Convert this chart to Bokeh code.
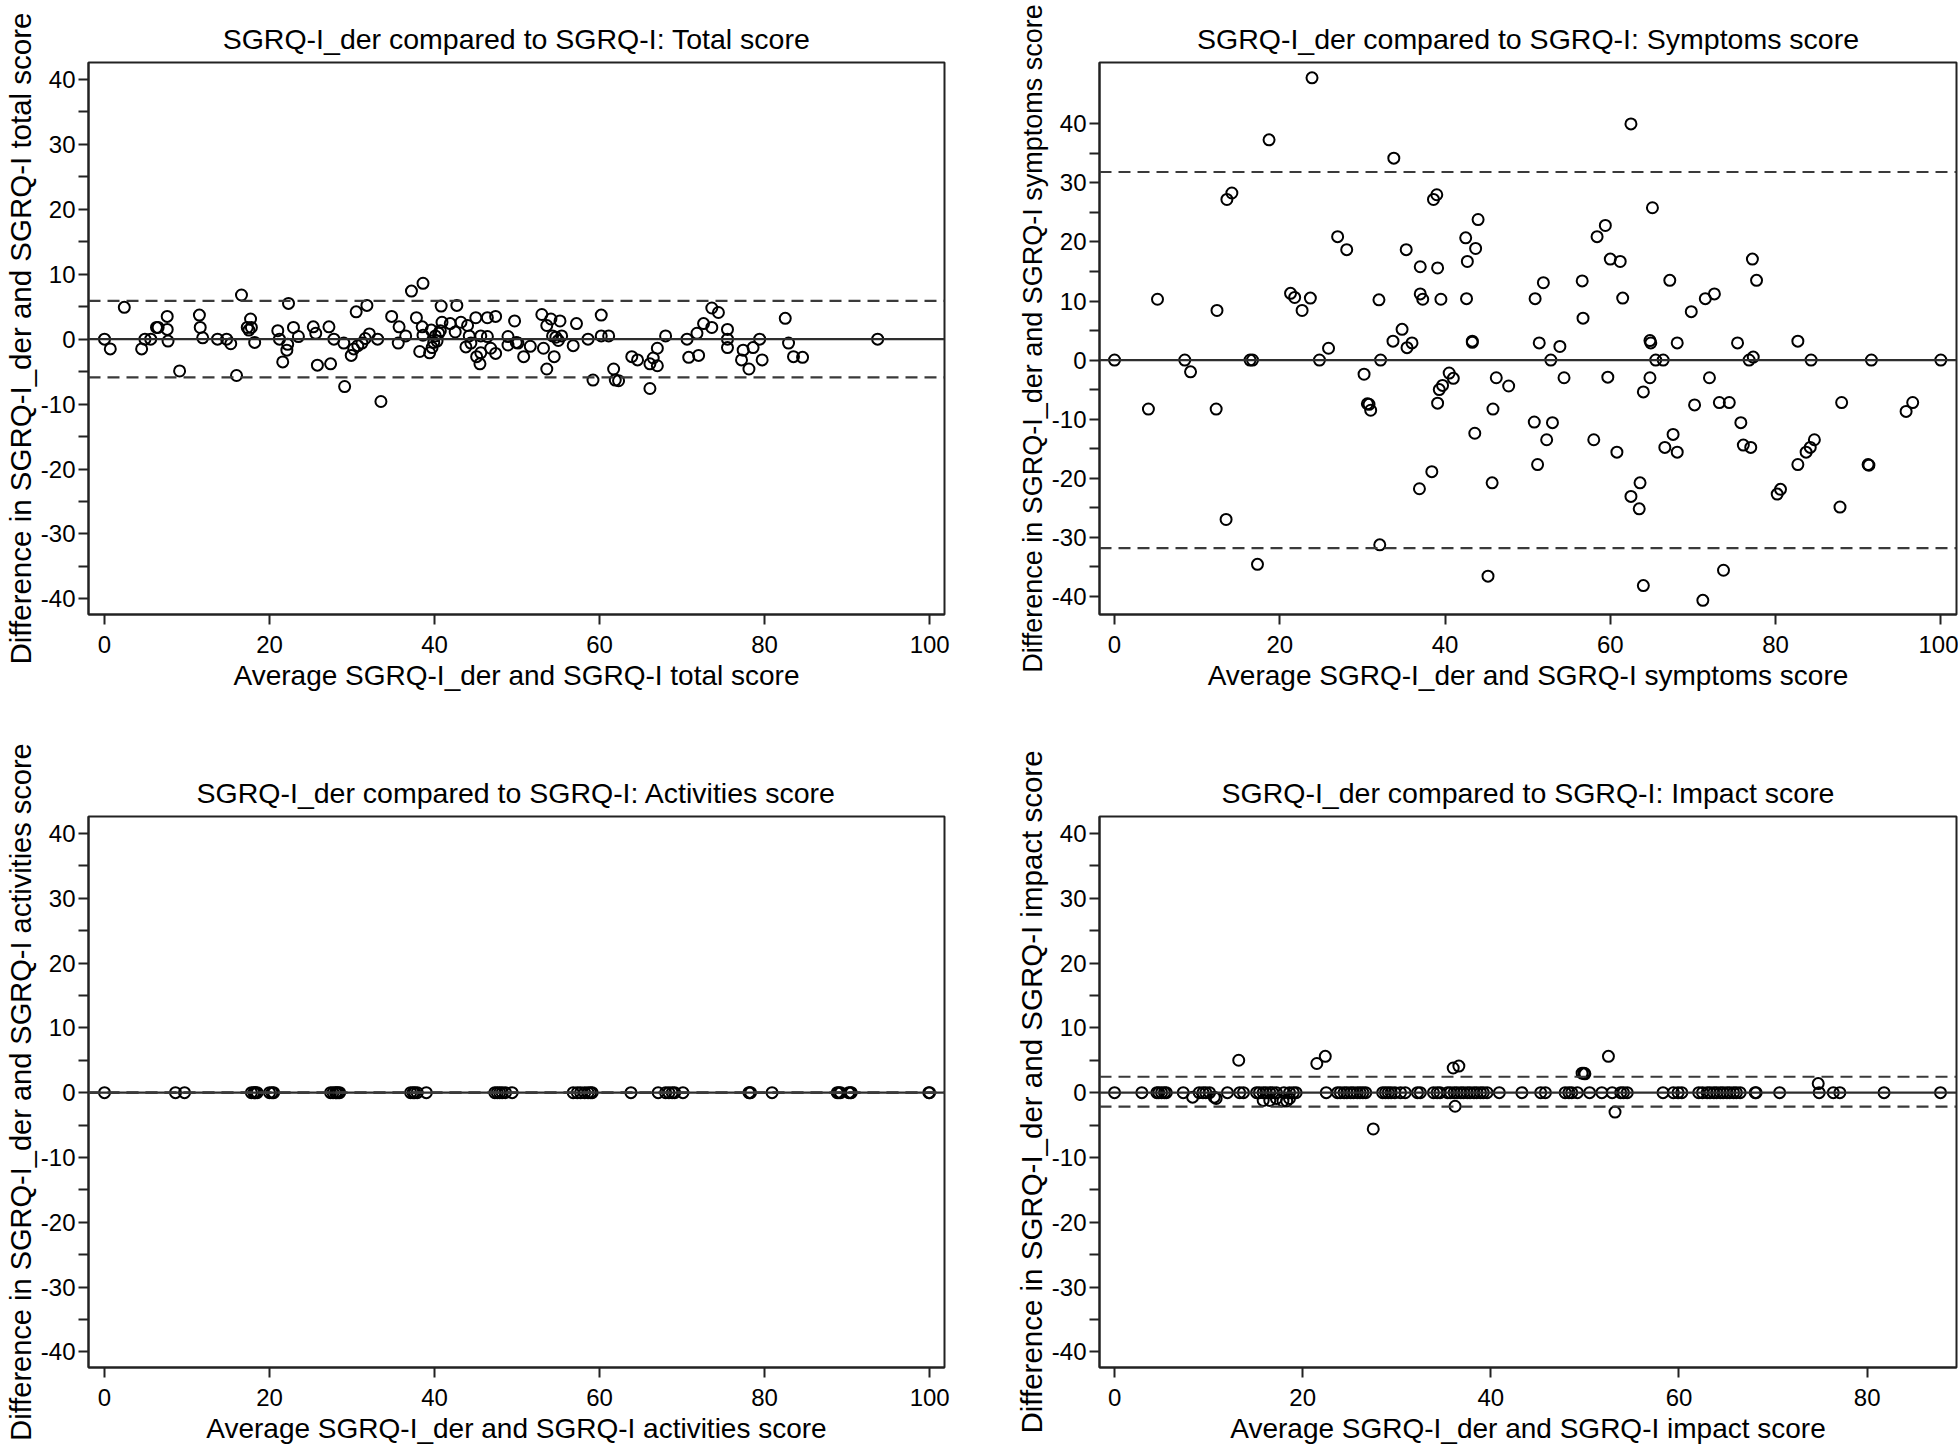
from bokeh.plotting import figure
from bokeh.models import Range1d, FixedTicker, Span
from bokeh.layouts import column, row
from bokeh.embed import file_html
from bokeh.resources import INLINE

# ---------------- data ----------------
y_major = [-40, -30, -20, -10, 0, 10, 20, 30, 40]
y_minor = [-35, -25, -15, -5, 5, 15, 25, 35]
x_ticks_100 = [0, 20, 40, 60, 80, 100]
x_ticks_80 = [0, 20, 40, 60, 80]

# Total score
total_x = [0.0, 0.7, 2.4, 4.5, 4.9, 5.6, 6.3, 6.5, 7.6, 7.6,
           7.7, 9.1, 11.5, 11.6, 11.9, 13.7, 14.8, 15.3, 16.0, 16.6,
           17.3, 17.7, 17.8, 17.5, 18.2, 21.0, 21.2, 21.6, 22.1, 22.2,
           22.3, 22.9, 23.5, 25.3, 25.6, 25.8, 27.2, 27.4, 27.8, 29.0,
           29.1, 29.9, 30.2, 30.5, 30.7, 31.2, 31.6, 31.8, 32.1, 33.1,
           33.5, 34.8, 35.6, 35.7, 36.5, 37.2, 37.8, 38.2, 38.5, 38.6,
           38.6, 39.4, 39.6, 39.7, 39.9, 40.1, 40.3, 40.5, 40.7, 40.8,
           40.9, 41.9, 42.5, 42.7, 43.2, 43.8, 44.0, 44.2, 44.4, 45.0,
           45.1, 45.5, 45.6, 45.6, 46.4, 46.4, 46.8, 47.4, 47.4, 48.9,
           48.9, 49.7, 49.9, 50.1, 50.8, 51.6, 53.0, 53.2, 53.6, 53.6,
           54.1, 54.3, 54.5, 54.7, 55.0, 55.2, 55.4, 56.8, 57.2, 58.6,
           59.2, 60.2, 60.2, 61.1, 61.7, 61.9, 62.3, 63.9, 64.6, 66.1,
           66.1, 66.5, 67.0, 67.0, 68.0, 70.6, 70.8, 71.8, 72.0, 72.6,
           73.6, 73.6, 74.4, 75.5, 75.5, 75.5, 77.2, 77.4, 78.1, 78.6,
           79.4, 79.7, 82.5, 82.9, 83.5, 84.6, 93.7]
total_diff = [0.0, -1.5, 4.9, -1.5, 0.0, 0.0, 1.8, 1.8, 3.5, 1.5,
              -0.3, -4.9, 3.7, 1.8, 0.2, 0.0, 0.0, -0.7, -5.6, 6.8,
              1.8, 3.1, 1.8, 1.4, -0.5, 1.3, 0.0, -3.5, -1.7, -0.8,
              5.5, 1.8, 0.4, 1.9, 0.9, -4.0, 1.9, -3.8, 0.0, -0.6,
              -7.3, -2.5, -1.5, 4.2, -1.0, -0.6, 0.1, 5.2, 0.8, 0.0,
              -9.6, 3.5, -0.6, 1.9, 0.5, 7.4, 3.3, -1.9, 1.9, 8.6,
              0.6, -2.1, 1.4, -1.3, -0.5, 0.5, -0.3, 0.9, 1.3, 5.1,
              2.6, 2.4, 1.1, 5.2, 2.6, -1.2, 2.1, 0.5, -0.6, 3.3,
              -2.7, -3.8, 0.5, -2.1, 3.3, 0.4, -1.4, 3.5, -2.2, 0.4,
              -0.9, 2.8, -0.5, -0.6, -2.7, -1.1, 3.8, -1.4, 2.1, -4.6,
              3.1, 0.5, -2.7, 0.3, -0.2, 2.8, 0.5, -1.0, 2.4, 0.0,
              -6.3, 3.7, 0.5, 0.5, -4.6, -6.3, -6.4, -2.7, -3.2, -3.8,
              -7.6, -2.9, -1.4, -4.1, 0.5, 0.0, -2.8, 0.9, -2.5, 2.4,
              4.8, 1.8, 4.1, 1.5, 0.0, -1.3, -3.2, -1.7, -4.6, -1.3,
              0.0, -3.2, 3.2, -0.6, -2.7, -2.8, 0.0]
total_lines = [-5.9, 5.9]

# Symptoms score
symp_x = [0.0, 4.1, 5.2, 8.5, 9.2, 12.3, 12.4, 13.5, 13.6, 14.2,
          16.4, 16.7, 17.3, 18.7, 21.3, 21.8, 22.7, 23.7, 23.9, 24.8,
          25.9, 27.0, 28.1, 30.2, 30.6, 30.8, 31.0, 32.0, 32.1, 32.2,
          33.7, 33.8, 34.8, 35.3, 35.4, 36.0, 36.9, 37.0, 37.0, 37.3,
          38.4, 38.6, 39.0, 39.1, 39.1, 39.3, 39.5, 39.7, 40.5, 41.0,
          42.5, 42.6, 42.7, 43.3, 43.3, 43.6, 43.7, 44.0, 45.2, 45.7,
          45.8, 46.2, 47.7, 50.8, 50.9, 51.2, 51.4, 51.9, 52.3, 52.8,
          53.0, 53.9, 54.4, 56.6, 56.7, 58.0, 58.4, 59.4, 59.7, 60.0,
          60.8, 61.2, 61.5, 62.5, 62.5, 63.5, 63.6, 64.0, 64.0, 64.8,
          64.9, 64.8, 65.1, 65.5, 66.4, 66.6, 67.2, 67.6, 68.1, 68.1,
          69.8, 70.2, 71.2, 71.5, 72.0, 72.6, 73.2, 73.7, 74.4, 75.4,
          75.8, 76.1, 76.8, 77.0, 77.2, 77.3, 77.7, 80.2, 80.6, 82.7,
          82.7, 83.7, 84.2, 84.3, 84.7, 87.8, 88.0, 91.2, 91.3, 91.6,
          95.8, 96.6, 100.0]
symp_diff = [0.0, -8.3, 10.3, 0.0, -2.0, -8.3, 8.4, -27.0, 27.2, 28.3,
             0.0, 0.0, -34.6, 37.3, 11.3, 10.6, 8.4, 10.5, 47.8, 0.0,
             2.0, 20.9, 18.7, -2.4, -7.4, -7.5, -8.5, 10.2, -31.3, 0.0,
             3.2, 34.2, 5.2, 18.7, 2.1, 2.9, -21.8, 11.2, 15.8, 10.3,
             -18.9, 27.2, 28.0, -7.3, 15.6, -5.0, 10.3, -4.3, -2.2, -3.1,
             20.7, 10.4, 16.7, 3.0, 3.2, -12.4, 18.9, 23.8, -36.6, -20.8,
             -8.3, -3.0, -4.4, -10.5, 10.4, -17.7, 2.9, 13.1, -13.5, 0.0,
             -10.6, 2.3, -3.0, 13.4, 7.1, -13.5, 20.9, 22.8, -2.9, 17.1,
             -15.6, 16.7, 10.5, 40.0, -23.1, -25.2, -20.8, -5.4, -38.2, 3.3,
             2.9, -3.0, 25.8, 0.0, 0.0, -14.8, 13.5, -12.6, -15.6, 2.9,
             8.2, -7.6, -40.7, 10.4, -3.0, 11.2, -7.2, -35.6, -7.2, 2.9,
             -10.6, -14.4, 0.0, -14.8, 17.1, 0.5, 13.5, -22.7, -21.9, 3.2,
             -17.7, -15.6, -14.8, 0.0, -13.5, -24.9, -7.2, -17.7, -17.8, 0.0,
             -8.7, -7.2, 0.0]
symp_lines = [-31.85, 31.85]

# Activities score
act_x = [0.0, 8.6, 9.7, 17.8, 18.1, 18.2, 18.3, 18.5, 20.0, 20.3,
         20.5, 27.4, 27.7, 28.0, 28.1, 28.3, 28.5, 37.1, 37.4, 37.6,
         37.9, 39.0, 47.3, 47.6, 47.9, 48.2, 48.6, 49.4, 56.8, 57.3,
         57.7, 58.2, 58.6, 58.9, 59.1, 63.8, 67.1, 68.0, 68.4, 68.8,
         69.1, 70.1, 78.1, 78.2, 78.3, 80.9, 88.8, 89.0, 89.2, 90.2,
         90.4, 90.5, 99.9, 100.0]
act_diff = [0.0, 0.0, 0.0, 0.0, 0.0, 0.0, 0.0, 0.0, 0.0, 0.0,
            0.0, 0.0, 0.0, 0.0, 0.0, 0.0, 0.0, 0.0, 0.0, 0.0,
            0.0, 0.0, 0.0, 0.0, 0.0, 0.0, 0.0, 0.0, 0.0, 0.0,
            0.0, 0.0, 0.0, 0.0, 0.0, 0.0, 0.0, 0.0, 0.0, 0.0,
            0.0, 0.0, 0.0, 0.0, 0.0, 0.0, 0.0, 0.0, 0.0, 0.0,
            0.0, 0.0, 0.0, 0.0]
act_lines = [-0.05, 0.05]

# Impact score
imp_x = [0.0, 2.9, 4.5, 4.7, 5.0, 5.3, 5.5, 7.3, 8.3, 9.0,
         9.4, 9.7, 10.1, 10.6, 10.8, 12.0, 13.2, 13.3, 13.7, 15.1,
         15.4, 15.8, 15.8, 16.1, 16.5, 16.5, 16.8, 17.2, 17.2, 17.9,
         18.0, 18.3, 18.6, 18.6, 19.0, 19.3, 21.5, 22.4, 22.5, 23.7,
         24.0, 24.4, 24.7, 25.1, 25.4, 25.8, 26.1, 26.4, 26.7, 27.5,
         28.5, 28.8, 29.1, 29.4, 29.8, 30.4, 30.9, 32.2, 32.5, 33.9,
         34.3, 34.6, 35.4, 35.7, 36.0, 36.1, 36.2, 36.4, 36.6, 36.8,
         37.1, 37.5, 37.8, 38.2, 38.5, 38.9, 39.2, 39.6, 40.9, 43.3,
         45.3, 45.8, 47.9, 48.3, 48.6, 49.2, 49.7, 49.9, 50.0, 50.5,
         51.8, 52.5, 52.9, 53.2, 53.8, 54.1, 54.5, 58.3, 59.4, 59.9,
         60.3, 62.1, 62.5, 63.0, 63.3, 63.7, 64.0, 64.4, 64.7, 65.1,
         65.4, 65.8, 66.1, 66.5, 68.1, 68.2, 70.7, 74.8, 74.9, 76.4,
         77.1, 81.8, 87.8]
imp_diff = [0.0, 0.0, 0.0, 0.0, 0.0, 0.0, 0.0, 0.0, -0.7, 0.0,
            0.0, 0.0, 0.0, -0.7, -0.9, 0.0, 5.0, 0.0, 0.0, 0.0,
            0.0, -1.2, 0.0, 0.0, -1.2, 0.0, 0.0, -0.9, 0.0, -1.3,
            0.0, -1.3, -0.9, 0.0, 0.0, 0.0, 4.5, 5.6, 0.0, 0.0,
            0.0, 0.0, 0.0, 0.0, 0.0, 0.0, 0.0, 0.0, 0.0, -5.6,
            0.0, 0.0, 0.0, 0.0, 0.0, 0.0, 0.0, 0.0, 0.0, 0.0,
            0.0, 0.0, 0.0, 0.0, 3.8, 0.0, -2.1, 0.0, 4.1, 0.0,
            0.0, 0.0, 0.0, 0.0, 0.0, 0.0, 0.0, 0.0, 0.0, 0.0,
            0.0, 0.0, 0.0, 0.0, 0.0, 0.0, 3.0, 3.0, 2.9, 0.0,
            0.0, 5.6, 0.0, -3.0, 0.0, 0.0, 0.0, 0.0, 0.0, 0.0,
            0.0, 0.0, 0.0, 0.0, 0.0, 0.0, 0.0, 0.0, 0.0, 0.0,
            0.0, 0.0, 0.0, 0.0, 0.0, 0.0, 0.0, 1.4, 0.0, 0.0,
            0.0, 0.0, 0.0]
imp_lines = [-2.15, 2.45]

# ---------------- styling ----------------
FONT = "Liberation Sans"
INK = "#222222"


def make(title, xlab, ylab, ylab_size, xs, ys, lines, xr, yr, xticks,
         w, h, bl, br, bt, bb):
    p = figure(width=w, height=h, x_range=Range1d(*xr), y_range=Range1d(*yr),
               output_backend="svg", toolbar_location=None,
               min_border_left=bl, min_border_right=br,
               min_border_top=bt, min_border_bottom=bb, title=title)
    p.background_fill_color = "white"
    p.border_fill_color = "white"
    p.outline_line_color = INK
    p.outline_line_width = 2
    p.xgrid.visible = False
    p.ygrid.visible = False

    p.title.text_font = FONT
    p.title.text_font_size = "28.5px"
    p.title.text_font_style = "normal"
    p.title.text_color = "black"
    p.title.align = "center"
    p.title.standoff = 15

    xa = p.xaxis[0]
    ya = p.yaxis[0]
    xa.ticker = FixedTicker(ticks=xticks, minor_ticks=[])
    ya.ticker = FixedTicker(ticks=y_major, minor_ticks=y_minor)
    xa.major_label_overrides = {t: str(t) for t in xticks}
    ya.major_label_overrides = {t: str(t) for t in y_major}
    for ax in (xa, ya):
        ax.axis_line_color = INK
        ax.axis_line_width = 2
        ax.major_tick_line_color = INK
        ax.major_tick_line_width = 2
        ax.major_tick_out = 10
        ax.major_tick_in = 0
        ax.minor_tick_line_color = INK
        ax.minor_tick_line_width = 2
        ax.minor_tick_out = 10
        ax.minor_tick_in = 0
        ax.major_label_text_font = FONT
        ax.major_label_text_font_size = "24px"
        ax.major_label_text_color = "black"
        ax.axis_label_text_font = FONT
        ax.axis_label_text_font_style = "normal"
        ax.axis_label_text_color = "black"
    xa.axis_label = xlab
    ya.axis_label = ylab
    xa.axis_label_text_font_size = "28px"
    ya.axis_label_text_font_size = ylab_size
    xa.major_label_standoff = 11
    xa.axis_label_standoff = 4
    ya.major_label_standoff = 3
    ya.axis_label_standoff = 1

    p.add_layout(Span(location=0, dimension="width", line_color="#2e2e2e",
                      line_width=2.2))
    for v in lines:
        p.add_layout(Span(location=v, dimension="width", line_color="#3a3a3a",
                          line_width=2.2, line_dash="12 7"))
    p.scatter(xs, ys, marker="circle", size=11, fill_color=None,
              line_color="black", line_width=2)
    return p


p1 = make("SGRQ-I_der compared to SGRQ-I: Total score",
          "Average SGRQ-I_der and SGRQ-I total score",
          "Difference in SGRQ-I_der and SGRQ-I total score", "29.5px",
          total_x, total_diff, total_lines, (-1.94, 101.8), (-42.4, 42.6),
          x_ticks_100, 980, 716, 88, 36, 62, 102)
p2 = make("SGRQ-I_der compared to SGRQ-I: Symptoms score",
          "Average SGRQ-I_der and SGRQ-I symptoms score",
          "Difference in SGRQ-I_der and SGRQ-I symptoms score", "27px",
          symp_x, symp_diff, symp_lines, (-1.82, 101.9), (-43.1, 50.4),
          x_ticks_100, 978, 716, 119, 2, 62, 102)
p3 = make("SGRQ-I_der compared to SGRQ-I: Activities score",
          "Average SGRQ-I_der and SGRQ-I activities score",
          "Difference in SGRQ-I_der and SGRQ-I activities score", "29px",
          act_x, act_diff, act_lines, (-1.94, 101.8), (-42.4, 42.6),
          x_ticks_100, 980, 730, 88, 36, 100, 78)
p4 = make("SGRQ-I_der compared to SGRQ-I: Impact score",
          "Average SGRQ-I_der and SGRQ-I impact score",
          "Difference in SGRQ-I_der and SGRQ-I impact score", "29.5px",
          imp_x, imp_diff, imp_lines, (-1.6, 89.5), (-42.4, 42.6),
          x_ticks_80, 978, 730, 119, 2, 100, 78)

layout = column(row(p1, p2), row(p3, p4))
open("out.html", "w").write(file_html(layout, INLINE))
